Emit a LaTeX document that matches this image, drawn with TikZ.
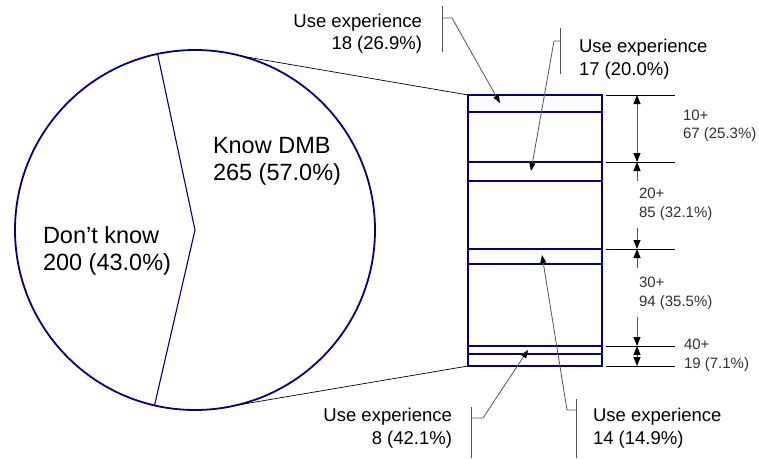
\documentclass[tikz,border=0pt]{standalone}
\usepackage{fontspec}
\setmainfont{Liberation Sans}
\usetikzlibrary{arrows.meta}
\definecolor{navy}{RGB}{0,0,128}
\definecolor{leadgray}{RGB}{85,85,85}
\definecolor{labgray}{RGB}{50,50,50}
\begin{document}
\begin{tikzpicture}[x=1pt,y=-1pt,
  every node/.style={inner sep=0pt,outer sep=0pt},
  navyline/.style={draw=navy,line width=1.8pt},
  pielab/.style={font=\fontsize{23.5}{27.5}\selectfont,align=left,anchor=west},
  uselab/.style={font=\fontsize{18.5}{22.5}\selectfont},
  dimlab/.style={font=\fontsize{15}{18.5}\selectfont,align=left,anchor=west,text=labgray},
  leaderline/.style={draw=leadgray,line width=0.8pt},
  ltip/.style={-{Triangle[length=8pt,width=6pt,color=black]}},
  dimline/.style={draw=black,line width=0.8pt},
  dimarrow/.style={draw=leadgray,line width=0.9pt},
  dtip/.style={-{Triangle[length=9pt,width=7pt,color=black]}},
  dtips/.style={{Triangle[length=9pt,width=7pt,color=black]}-{Triangle[length=9pt,width=7pt,color=black]}}]
\useasboundingbox (0,0) rectangle (759,458);
\fill[white] (0,0) rectangle (759,458);

% pie
\node[circle,navyline,minimum size=360pt] (pie) at (195,230) {};
\draw[draw=navy,line width=1.1pt] (pie.102.2) -- (pie.center) -- (pie.-103.1);
\node[pielab] (know) at (213,161.5) {Know DMB\\265 (57.0\%)};
\node[pielab] (dont) at (43,251) {Don’t know\\200 (43.0\%)};

% bar
\node[rectangle,navyline,minimum width=134pt,minimum height=271pt] (bar) at (535,230.5) {};
\foreach \yy in {112,162,181,249,264,346,354}
  \draw[navyline] (468,\yy) -- (602,\yy);

% zoom lines
\draw[black,line width=0.7pt] (pie.75.6) -- (bar.north west);
\draw[black,line width=0.7pt] (pie.-77.9) -- (bar.south west);

% dimension lines
\foreach \yy/\nm in {95/h1,162/h2,249/h3,346/h4,366/h5}{
  \coordinate (\nm a) at (606,\yy);
  \coordinate (\nm b) at (675,\yy);
  \coordinate (\nm m) at (637,\yy);
  \draw[dimline] (\nm a) -- (\nm b);
}
\draw[dimarrow,dtips] (h1m) -- (h2m);
\coordinate (a20t) at (637,181);
\coordinate (a20b) at (637,228);
\draw[dimarrow,dtip] (a20t) -- (h2m);
\draw[dimarrow,dtip] (a20b) -- (h3m);
\coordinate (a30t) at (637,268);
\coordinate (a30b) at (637,317);
\draw[dimarrow,dtip] (a30t) -- (h3m);
\draw[dimarrow,dtip] (a30b) -- (h4m);
\draw[dimarrow,dtips] (h4m) -- (h5m);

\node[dimlab] (l10) at (683,126) {10+\\67 (25.3\%)};
\node[dimlab] (l20) at (639,204.5) {20+\\85 (32.1\%)};
\node[dimlab] (l30) at (639,293.5) {30+\\94 (35.5\%)};
\node[dimlab] (l40) at (684,355.5) {40+\\19 (7.1\%)};

% callouts
\node[uselab,align=right,anchor=east] (u18) at (422,33.5) {Use experience\\18 (26.9\%)};
\node[uselab,align=left,anchor=west] (u17) at (579,59) {Use experience\\17 (20.0\%)};
\node[uselab,align=left,anchor=west] (u14) at (593,428) {Use experience\\14 (14.9\%)};
\node[uselab,align=right,anchor=east] (u8) at (452,428) {Use experience\\8 (42.1\%)};

% callout 18
\coordinate (b18t) at (442,6); \coordinate (b18b) at (442,52);
\coordinate (b18k) at (442,18); \coordinate (b18e) at (452,18);
\coordinate (t18) at (500,103);
\draw[leaderline] (b18t) -- (b18b);
\draw[leaderline,ltip] (b18k) -- (b18e) -- (t18);
% callout 17
\coordinate (b17t) at (560,28); \coordinate (b17b) at (560,74);
\coordinate (b17k) at (560,41); \coordinate (b17e) at (554,41);
\coordinate (t17) at (531,171);
\draw[leaderline] (b17t) -- (b17b);
\draw[leaderline,ltip] (b17k) -- (b17e) -- (t17);
% callout 14
\coordinate (b14t) at (576,399); \coordinate (b14b) at (576,458);
\coordinate (b14k) at (576,410); \coordinate (b14e) at (567,410);
\coordinate (t14) at (542,255);
\draw[leaderline] (b14t) -- (b14b);
\draw[leaderline,ltip] (b14k) -- (b14e) -- (t14);
% callout 8
\coordinate (b8t) at (471,407); \coordinate (b8b) at (471,458);
\coordinate (b8k) at (471,418); \coordinate (b8e) at (483,418);
\coordinate (t8) at (528,350);
\draw[leaderline] (b8t) -- (b8b);
\draw[leaderline,ltip] (b8k) -- (b8e) -- (t8);
\end{tikzpicture}
\end{document}
